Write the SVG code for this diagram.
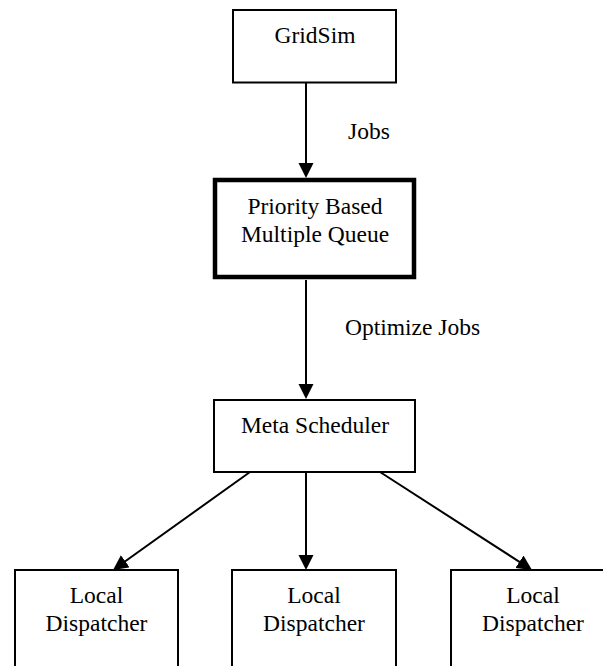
<svg xmlns="http://www.w3.org/2000/svg" width="603" height="666" viewBox="0 0 603 666">
  <style>
    .box { fill: #ffffff; stroke: #000000; stroke-width: 2; }
    .box.bold { stroke-width: 4.5; }
    .label { font-family: "Liberation Serif", "Times New Roman", serif; font-size: 23.5px; fill: #000000; text-anchor: middle; }
    .note { font-family: "Liberation Serif", "Times New Roman", serif; font-size: 23.5px; fill: #000000; }
    .edge { stroke: #000000; stroke-width: 2; fill: none; marker-end: url(#arrow); }
  </style>
  <defs>
    <marker id="arrow" markerUnits="userSpaceOnUse" markerWidth="16" markerHeight="16" refX="12" refY="7.5" orient="auto">
      <path d="M0,0 L15,7.5 L0,15 Z" fill="#000000"/>
    </marker>
  </defs>
  <rect width="603" height="666" fill="#ffffff"/>

  <g id="connectors">
    <line class="edge" x1="306" y1="83" x2="306" y2="175"/>
    <line class="edge" x1="306" y1="280" x2="306" y2="396"/>
    <line class="edge" x1="250" y1="472" x2="115.5" y2="568.3"/>
    <line class="edge" x1="306" y1="472" x2="306" y2="567"/>
    <line class="edge" x1="380" y1="472" x2="529.5" y2="568.3"/>
    <text class="note" x="348" y="139">Jobs</text>
    <text class="note" x="345" y="335">Optimize Jobs</text>
  </g>

  <g id="gridsim">
    <rect class="box" x="233" y="10" width="163" height="72.5"/>
    <text class="label" x="315" y="43">GridSim</text>
  </g>

  <g id="queue">
    <rect class="box bold" x="215" y="180" width="199" height="97"/>
    <text class="label" x="315" y="214">Priority Based</text>
    <text class="label" x="315" y="241.5">Multiple Queue</text>
  </g>

  <g id="meta-scheduler">
    <rect class="box" x="214" y="400" width="201" height="72"/>
    <text class="label" x="315" y="433">Meta Scheduler</text>
  </g>

  <g id="dispatcher-1">
    <rect class="box" x="15" y="570" width="163" height="110"/>
    <text class="label" x="96.5" y="603">Local</text>
    <text class="label" x="96.5" y="630.5">Dispatcher</text>
  </g>

  <g id="dispatcher-2">
    <rect class="box" x="232" y="570" width="164" height="110"/>
    <text class="label" x="314" y="603">Local</text>
    <text class="label" x="314" y="630.5">Dispatcher</text>
  </g>

  <g id="dispatcher-3">
    <rect class="box" x="451" y="570" width="164" height="110"/>
    <text class="label" x="533" y="603">Local</text>
    <text class="label" x="533" y="630.5">Dispatcher</text>
  </g>
</svg>
